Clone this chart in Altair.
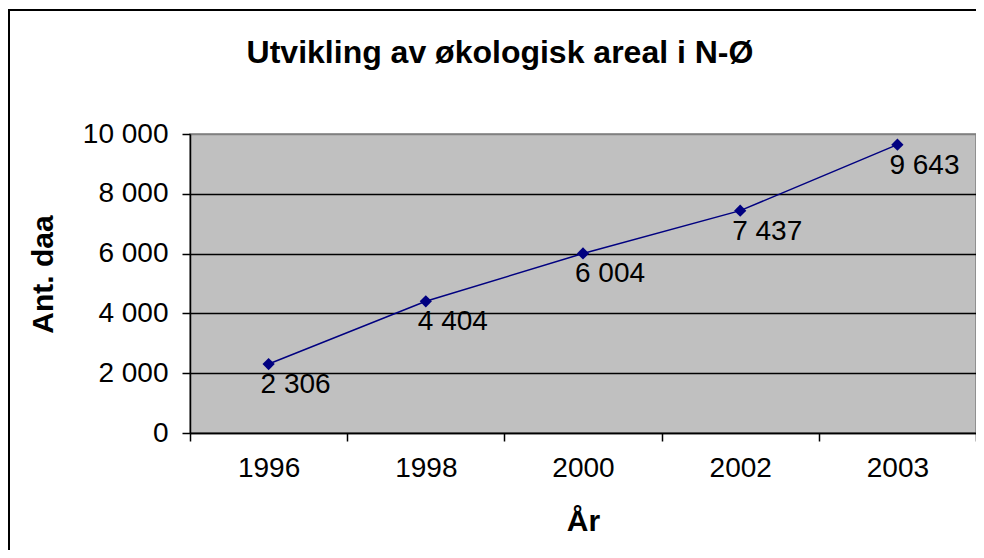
import altair as alt
import pandas as pd

years = ["1996", "1998", "2000", "2002", "2003"]
areal = [2306, 4404, 6004, 7437, 9643]

title_text = "Utvikling av økologisk areal i N-Ø"
x_title = "År"
y_title = "Ant. daa"
y_ticks = [0, 2000, 4000, 6000, 8000, 10000]

FONT = "Liberation Sans"
NAVY = "#000080"

df = pd.DataFrame({"year": years, "value": areal})

x_enc = alt.X(
    "year:N",
    sort=years,
    scale=alt.Scale(paddingInner=0, paddingOuter=0),
    axis=alt.Axis(
        title=x_title,
        tickBand="extent",
        labelAngle=0,
        labelFont=FONT,
        labelFontSize=28,
        labelColor="black",
        labelPadding=13,
        tickSize=8,
        tickColor="black",
        tickWidth=1.5,
        domainColor="black",
        domainWidth=1.5,
        titleFont=FONT,
        titleFontSize=30,
        titleFontWeight="bold",
        titleColor="black",
        titleY=97,
        titleBaseline="alphabetic",
        grid=False,
    ),
)

y_enc = alt.Y(
    "value:Q",
    scale=alt.Scale(domain=[0, 10000], nice=False),
    axis=alt.Axis(
        title=y_title,
        values=y_ticks,
        labelExpr="replace(format(datum.value, ','), ',', ' ')",
        labelFont=FONT,
        labelFontSize=28,
        labelColor="black",
        labelPadding=14,
        tickSize=8,
        tickColor="black",
        tickWidth=1.5,
        domainColor="black",
        domainWidth=1.5,
        grid=True,
        gridColor={"condition": {"test": "datum.value == 10000", "value": "#808080"}, "value": "black"},
        gridWidth=1.5,
        titleFont=FONT,
        titleFontSize=30,
        titleFontWeight="bold",
        titleColor="black",
        titleAngle=-90,
        titleX=-138,
        titleY=140,
        titleBaseline="alphabetic",
        titleAlign="center",
    ),
)

base = alt.Chart(df)

border = alt.Chart(pd.DataFrame({"a": [0]})).mark_rect(
    fill=None, stroke="black", strokeWidth=2, clip=False
).encode(
    x=alt.value(-181), x2=alt.value(900), y=alt.value(-124), y2=alt.value(700)
)

title_mark = alt.Chart(pd.DataFrame({"t": [title_text]})).mark_text(
    font=FONT, fontSize=32, fontWeight="bold", color="black",
    align="center", baseline="alphabetic", clip=False
).encode(x=alt.value(310), y=alt.value(-71), text="t:N")

line = base.mark_line(color=NAVY, strokeWidth=1.5).encode(x=x_enc, y=y_enc)
points = base.mark_point(shape="diamond", filled=True, color=NAVY, size=150, opacity=1).encode(
    x=x_enc, y=y_enc
)
labels = base.transform_calculate(
    lab="replace(format(datum.value, ','), ',', ' ')"
).mark_text(
    font=FONT, fontSize=28, color="black", align="left", baseline="top", dx=-8, dy=7
).encode(x=x_enc, y=y_enc, text="lab:N")

chart = alt.layer(border, title_mark, line, points, labels).properties(
    width=786,
    height=299,
    background="white",
    autosize=alt.AutoSizeParams(type="none"),
    padding={"left": 182, "top": 126, "right": 0, "bottom": 117},
).configure_view(
    fill="#C0C0C0", stroke="#808080", strokeWidth=1.5
)

chart.save("out.html", embed_options={"renderer": "svg", "actions": False})
